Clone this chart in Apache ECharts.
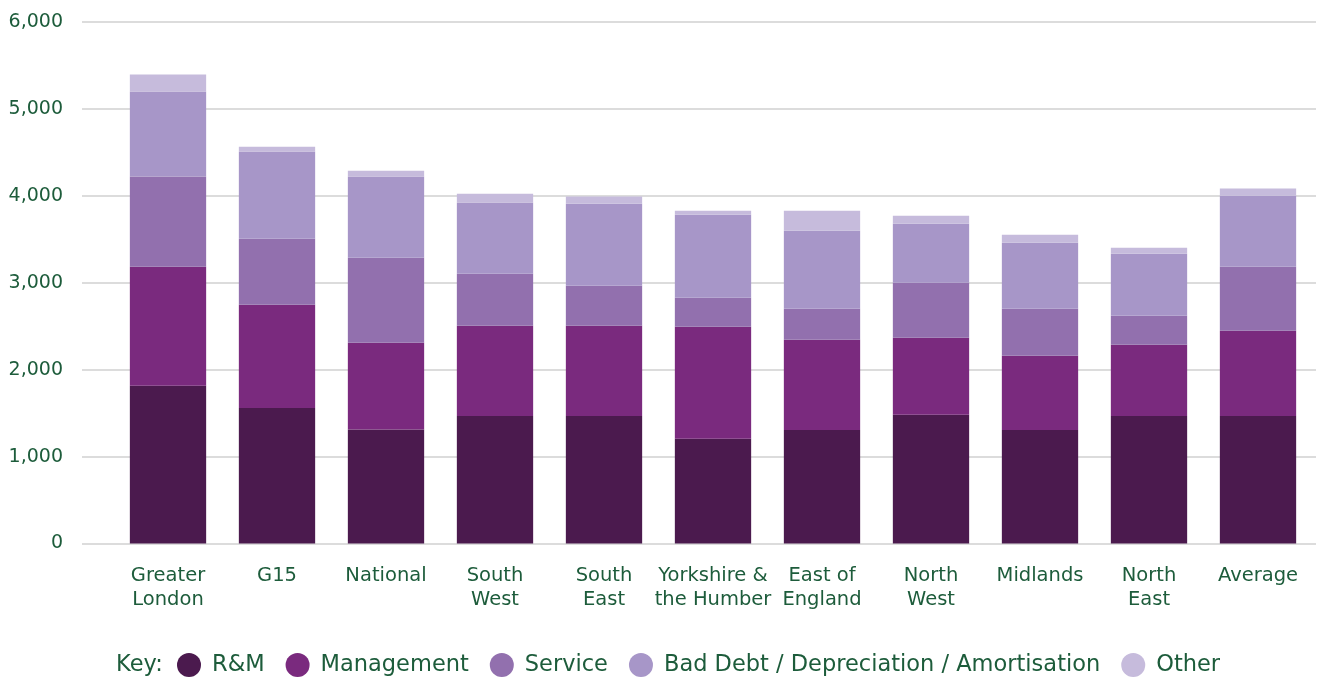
<!DOCTYPE html>
<html>
<head>
<meta charset="utf-8">
<style>
  html, body { margin: 0; padding: 0; background: #ffffff; }
  #chart { width: 1326px; height: 679px; }
</style>
<script src="https://cdn.jsdelivr.net/npm/echarts@6/dist/echarts.min.js"></script>
</head>
<body>
<div id="chart"></div>
<script>
// Cost per unit by region, split into five cost types
const categories = [
  'Greater\nLondon', 'G15', 'National', 'South\nWest', 'South\nEast',
  'Yorkshire &\nthe Humber', 'East of\nEngland', 'North\nWest', 'Midlands',
  'North\nEast', 'Average'
];
const rm         = [1814, 1560, 1311, 1468, 1468, 1204, 1307, 1480, 1307, 1468, 1468];
const management = [1370, 1187,  998, 1037, 1037, 1289, 1037,  887,  852,  818,  979];
const service    = [1037,  760,  979,  599,  461,  334,  357,  633,  542,  334,  737];
const badDebt    = [ 979, 1002,  933,  818,  944,  956,  898,  680,  760,  714,  818];
const other      = [ 196,   57,   69,  103,   81,   46,  230,   92,   92,   69,   81];

const seriesNames = ['R&M', 'Management', 'Service', 'Bad Debt / Depreciation / Amortisation', 'Other'];
const seriesColors = ['#4b1a4e', '#7a2a7e', '#9270ae', '#a796c8', '#c6bbdc'];
const seriesData = [rm, management, service, badDebt, other];

const textColor = '#1d5c3b';
const fontFamily = '"DejaVu Sans", sans-serif';

const chart = echarts.init(document.getElementById('chart'), null, { renderer: 'canvas' });

const Y_MAX = 6000, Y_STEP = 1000;

chart.setOption({
  animation: false,
  textStyle: { fontFamily: fontFamily, color: textColor },
  grid: [
    // background grid carrying the gridlines and value labels
    { left: 82, right: 10, top: 22, bottom: 135.5 },
    // bar area
    { left: 113.5, right: 13.5, top: 22, bottom: 135.5 }
  ],
  xAxis: [
    { gridIndex: 0, type: 'value', show: false, min: 0, max: 1 },
    {
      gridIndex: 1, type: 'category', data: categories,
      axisLine: { show: false }, axisTick: { show: false },
      axisLabel: {
        interval: 0, color: textColor, fontSize: 19.5, lineHeight: 24,
        margin: 20, fontFamily: fontFamily, hideOverlap: false
      }
    }
  ],
  yAxis: [
    {
      gridIndex: 0, type: 'value', min: 0, max: Y_MAX, interval: Y_STEP,
      axisLine: { show: false }, axisTick: { show: false },
      splitLine: { lineStyle: { color: '#dcdcdc', width: 2 } },
      axisLabel: {
        color: textColor, fontSize: 19, margin: 19, fontFamily: fontFamily,
        formatter: v => v.toLocaleString('en-GB')
      }
    },
    {
      gridIndex: 1, type: 'value', min: 0, max: Y_MAX, interval: Y_STEP,
      show: false, splitLine: { show: false }
    }
  ],
  legend: {
    left: 172, top: 648,
    icon: 'circle', itemWidth: 24, itemHeight: 24, itemGap: 21,
    textStyle: { color: textColor, fontSize: 22.5, fontFamily: fontFamily, padding: [0, 0, 0, 6] },
    data: seriesNames
  },
  graphic: [
    {
      type: 'text', left: 116, top: 654,
      style: { text: 'Key:', fill: textColor, fontSize: 22.5, fontFamily: fontFamily }
    }
  ],
  series: seriesNames.map((name, i) => ({
    name: name,
    type: 'bar',
    stack: 'cost',
    xAxisIndex: 1, yAxisIndex: 1,
    barCategoryGap: '30%',
    itemStyle: { color: seriesColors[i] },
    emphasis: { disabled: true },
    data: seriesData[i]
  }))
});
</script>
</body>
</html>
